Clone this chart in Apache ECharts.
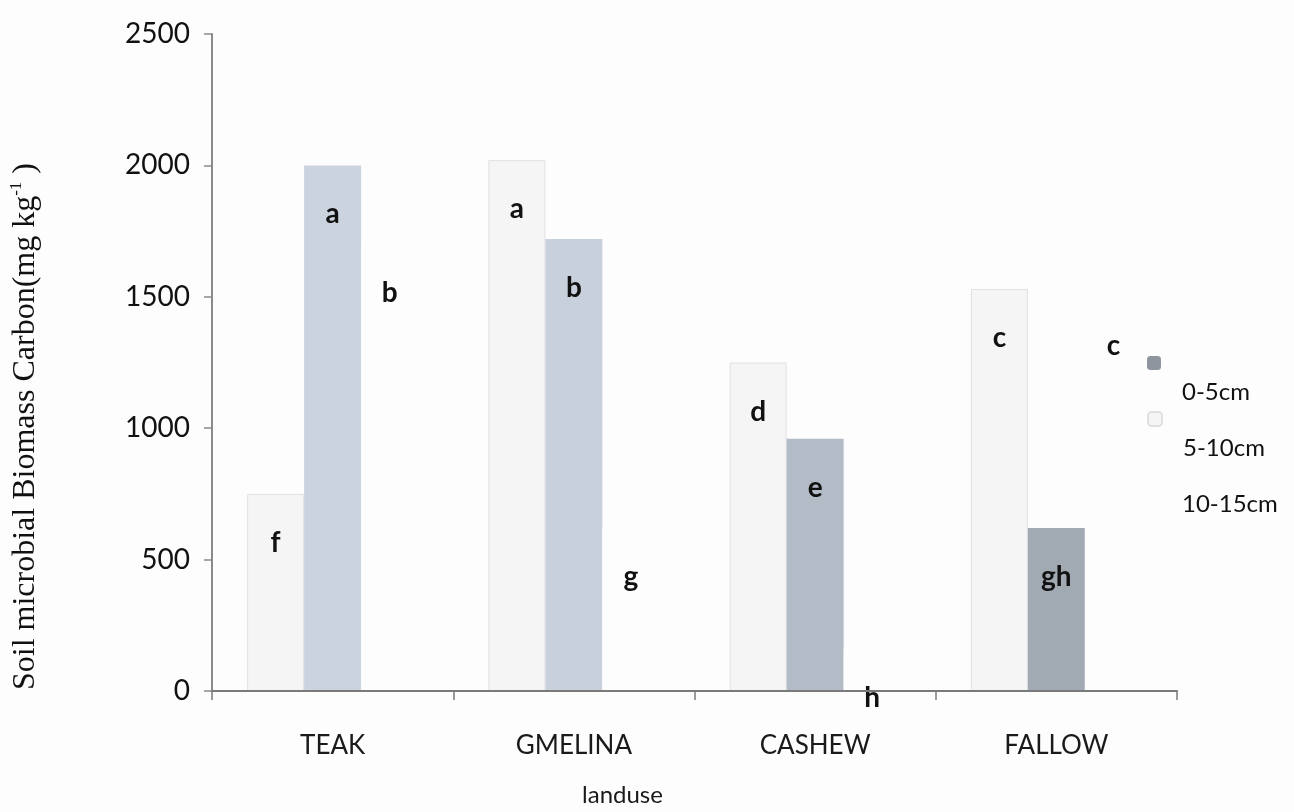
<!DOCTYPE html>
<html><head><meta charset="utf-8">
<script src="https://cdn.jsdelivr.net/npm/echarts@6/dist/echarts.min.js"></script>
<style>html,body{margin:0;padding:0;background:#fdfdfd}#c{width:1294px;height:812px}</style>
</head><body><div id="c"></div>
<script>
const categories = ['TEAK', 'GMELINA', 'CASHEW', 'FALLOW'];
const legendNames = ['0-5cm', '5-10cm', '10-15cm'];
// bars left to right within each group
const values5to10 = [750, 2020, 1250, 1530];
const values0to5 = [2000, 1720, 960, 620];
const values10to15 = [1700, 620, 160, 1500];
const letters5to10 = ['f', 'a', 'd', 'c'];
const letters0to5 = ['a', 'b', 'e', 'gh'];
const letters10to15 = ['b', 'g', 'h', 'c'];
const yMin = 0, yMax = 2500, yStep = 500;

const shades0to5 = ['#cbd3de', '#c8d0db', '#b3bbc6', '#a1a9b3'];
const sans = 'Lato, "Open Sans", sans-serif';
const legendTops = [341, 397, 453];

function labelFor(letters) {
  return {
    show: true, position: 'insideTop', distance: 35,
    formatter: p => letters[p.dataIndex],
    fontFamily: sans, fontWeight: 'bold', fontSize: 28, color: '#111'
  };
}

const chart = echarts.init(document.getElementById('c'), null, {renderer: 'canvas'});
chart.setOption({
  backgroundColor: '#fdfdfd',
  animation: false,
  grid: {left: 208, right: 117, top: 34, bottom: 121, containLabel: false},
  legend: legendNames.map((n, i) => ({
    data: [n], orient: 'vertical', left: 1142, top: legendTops[i],
    itemWidth: 14, itemHeight: 14,
    formatter: name => '{p| }\n{t|' + name + '}',
    textStyle: {
      rich: {
        p: {fontSize: 10, lineHeight: 58},
        t: {fontFamily: sans, fontSize: 24, color: '#111', lineHeight: 24, padding: [0, 0, 0, 16]}
      }
    }
  })),
  xAxis: {
    type: 'category', data: categories, z: 5,
    axisLine: {lineStyle: {color: '#7a7a7a', width: 2}},
    axisTick: {show: true, length: 9, lineStyle: {color: '#7a7a7a', width: 1.5}},
    axisLabel: {fontFamily: sans, fontSize: 26, color: '#1a1a1a', margin: 42},
    name: 'landuse', nameLocation: 'middle', nameGap: 92,
    nameTextStyle: {fontFamily: sans, fontSize: 24, color: '#1a1a1a', padding: [0, 144, 0, 0]}
  },
  yAxis: {
    type: 'value', min: yMin, max: yMax, interval: yStep, z: 5,
    axisLine: {show: true, lineStyle: {color: '#8a8a8a', width: 2}},
    axisTick: {show: true, length: 8, lineStyle: {color: '#8a8a8a', width: 1.5}},
    splitLine: {show: false},
    axisLabel: {fontFamily: sans, fontSize: 28, color: '#111', margin: 22, formatter: v => String(v)},
    name: '{a|Soil microbial Biomass Carbon(mg kg}{s|-1}{a| )}',
    nameLocation: 'middle', nameGap: 168,
    nameTextStyle: {
      padding: [0, 128, 0, 0],
      rich: {
        a: {fontFamily: '"Liberation Serif", serif', fontSize: 32, color: '#111', lineHeight: 36},
        s: {fontFamily: '"Liberation Serif", serif', fontSize: 17, color: '#111', verticalAlign: 'top', lineHeight: 36}
      }
    }
  },
  series: [
    {
      name: '5-10cm', type: 'bar', barWidth: 57, barGap: '0%',
      itemStyle: {color: '#f5f5f5', borderColor: '#e0e0e0', borderWidth: 1},
      data: values5to10, label: labelFor(letters5to10)
    },
    {
      name: '0-5cm', type: 'bar', barWidth: 57, barGap: '0%',
      itemStyle: {color: '#8f959e'},
      data: values0to5.map((v, i) => ({value: v, itemStyle: {color: shades0to5[i]}})),
      label: labelFor(letters0to5)
    },
    {
      name: '10-15cm', type: 'bar', barWidth: 57, barGap: '0%',
      itemStyle: {color: '#fdfdfd'},
      data: values10to15, label: labelFor(letters10to15)
    }
  ]
});
</script></body></html>
